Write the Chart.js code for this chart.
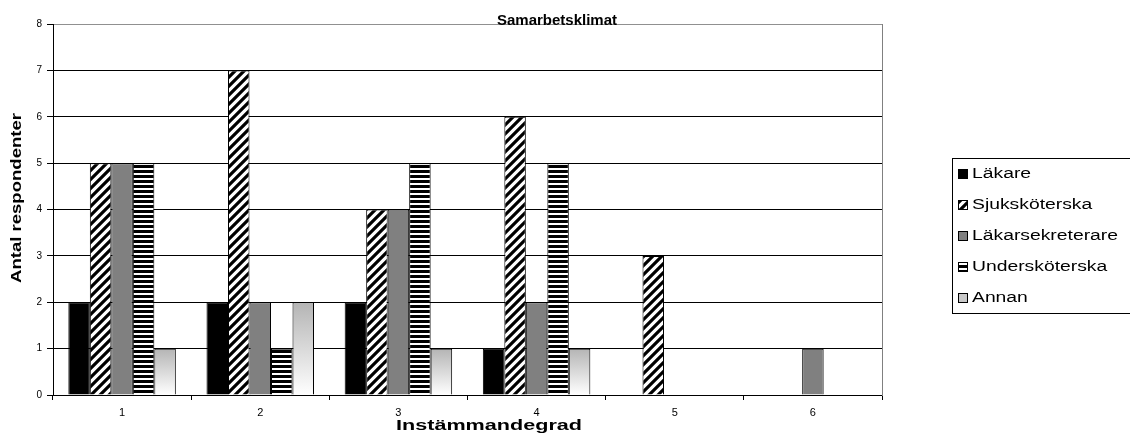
<!DOCTYPE html>
<html>
<head>
<meta charset="utf-8">
<script src="https://cdn.jsdelivr.net/npm/chart.js@4/dist/chart.umd.min.js"></script>
<style>
  body { margin: 0; background: #fff; overflow: hidden; }
</style>
</head>
<body>
<canvas id="graph" width="1130" height="443"></canvas>
<script>
// data
var categories = ['1', '2', '3', '4', '5', '6'];
var lakare = [2, 2, 2, 1, 0, 0];
var sjukskoterska = [5, 7, 4, 6, 3, 0];
var lakarsekreterare = [5, 2, 4, 2, 0, 1];
var underskoterska = [5, 1, 5, 5, 0, 0];
var annan = [1, 2, 1, 1, 0, 0];
var seriesLabels = ['Läkare', 'Sjuksköterska', 'Läkarsekreterare', 'Undersköterska', 'Annan'];
var yMax = 8;

var FONT = 'Arial, "Liberation Sans", sans-serif';

// hatch "/" pattern
function hatchPattern() {
  var c = document.createElement('canvas');
  var s = 9;
  c.width = s; c.height = s;
  var x = c.getContext('2d');
  x.fillStyle = '#fff';
  x.fillRect(0, 0, s, s);
  x.strokeStyle = '#000';
  x.lineWidth = 3.2;
  x.beginPath();
  x.moveTo(-2, s + 2); x.lineTo(s + 2, -2);
  x.moveTo(-2, 2); x.lineTo(2, -2);
  x.moveTo(s - 2, s + 2); x.lineTo(s + 2, s - 2);
  x.stroke();
  return x.createPattern(c, 'repeat');
}

// horizontal stripes
function stripePattern() {
  var c = document.createElement('canvas');
  c.width = 4; c.height = 5;
  var x = c.getContext('2d');
  x.fillStyle = '#fff';
  x.fillRect(0, 0, 4, 5);
  x.fillStyle = '#000';
  x.fillRect(0, 0, 4, 3);
  return x.createPattern(c, 'repeat');
}

var hatch = hatchPattern();
var stripes = stripePattern();

function annanFill(c) {
  var chart = c.chart;
  var y = chart.scales && chart.scales.y;
  if (!y || c.raw == null || y.top === undefined) return '#d8d8d8';
  var top = y.getPixelForValue(c.raw);
  var base = y.getPixelForValue(0);
  if (!isFinite(top) || !isFinite(base) || top === base) return '#d8d8d8';
  var g = chart.ctx.createLinearGradient(0, top, 0, base);
  g.addColorStop(0, '#b4b4b4');
  g.addColorStop(1, '#ffffff');
  return g;
}

var fills = ['#000000', hatch, '#808080', stripes, annanFill];
var swatchFills = ['#000000', hatch, '#808080', stripes, '#c8c8c8'];
var seriesData = [lakare, sjukskoterska, lakarsekreterare, underskoterska, annan];

// text that is drawn wider than the font, like in the original picture
function drawFit(ctx, text, cx, cy, font, width, rot) {
  ctx.save();
  ctx.font = font;
  var w = ctx.measureText(text).width;
  ctx.translate(cx, cy);
  if (rot) ctx.rotate(rot);
  ctx.scale(width / w, 1);
  ctx.fillStyle = '#000';
  ctx.textAlign = 'center';
  ctx.textBaseline = 'middle';
  ctx.fillText(text, 0, 0);
  ctx.restore();
}

var textPlugin = {
  id: 'texts',
  afterDraw: function (chart) {
    var ctx = chart.ctx;
    // title
    ctx.save();
    ctx.font = 'bold 15px ' + FONT;
    ctx.fillStyle = '#000';
    ctx.textAlign = 'center';
    ctx.textBaseline = 'alphabetic';
    ctx.fillText('Samarbetsklimat', 557, 25);
    ctx.restore();

    drawFit(ctx, 'Antal respondenter', 17, 198, 'bold 14px ' + FONT, 170, -Math.PI / 2);
    drawFit(ctx, 'Instämmandegrad', 489, 426, 'bold 15px ' + FONT, 186, 0);

    // legend
    ctx.save();
    ctx.strokeStyle = '#000';
    ctx.lineWidth = 1;
    ctx.strokeRect(952.5, 158.5, 200, 155);
    ctx.font = '14px ' + FONT;
    var sx = 146 / ctx.measureText('Läkarsekreterare').width;
    for (var i = 0; i < seriesLabels.length; i++) {
      var yy = 174 + i * 31;
      ctx.fillStyle = swatchFills[i];
      ctx.fillRect(958, yy - 5, 10, 10);
      ctx.strokeStyle = '#000';
      ctx.strokeRect(958.5, yy - 4.5, 9, 9);
      ctx.save();
      ctx.translate(972, yy);
      ctx.scale(sx, 1);
      ctx.fillStyle = '#000';
      ctx.textAlign = 'left';
      ctx.textBaseline = 'middle';
      ctx.fillText(seriesLabels[i], 0, 0);
      ctx.restore();
    }
    ctx.restore();
  }
};

var datasets = seriesLabels.map(function (label, i) {
  return {
    label: label,
    data: seriesData[i],
    backgroundColor: fills[i],
    borderColor: '#000',
    borderWidth: 1,
    categoryPercentage: 0.778,
    barPercentage: 1
  };
});

var ctx = document.getElementById('graph').getContext('2d');
var chart = new Chart(ctx, {
  type: 'bar',
  data: { labels: categories, datasets: datasets },
  options: {
    responsive: false,
    animation: false,
    layout: { padding: { top: 24, left: 0, right: 0, bottom: 0 } },
    plugins: {
      legend: { display: false },
      title: { display: false },
      tooltip: { enabled: false }
    },
    scales: {
      x: {
        offset: true,
        grid: {
          offset: true,
          drawOnChartArea: false,
          drawTicks: true,
          tickLength: 5,
          color: '#000'
        },
        border: { display: true, color: '#000', width: 1 },
        ticks: { color: '#000', font: { family: FONT, size: 11 }, padding: 6 },
        afterFit: function (s) { s.height = 48; }
      },
      y: {
        min: 0,
        max: yMax,
        ticks: { stepSize: 1, color: '#000', font: { family: FONT, size: 10 }, padding: 5 },
        grid: {
          color: function (c) { return c.tick && c.tick.value === yMax ? '#909090' : '#000'; },
          tickColor: '#000',
          tickLength: 6
        },
        border: { display: true, color: '#000', width: 1 },
        afterFit: function (s) { s.width = 53; }
      },
      yr: {
        type: 'linear',
        position: 'right',
        ticks: { display: false },
        grid: { display: false },
        border: { display: true, color: '#808080', width: 1 },
        afterFit: function (s) { s.width = 248; }
      }
    }
  },
  plugins: [textPlugin]
});
</script>
</body>
</html>
